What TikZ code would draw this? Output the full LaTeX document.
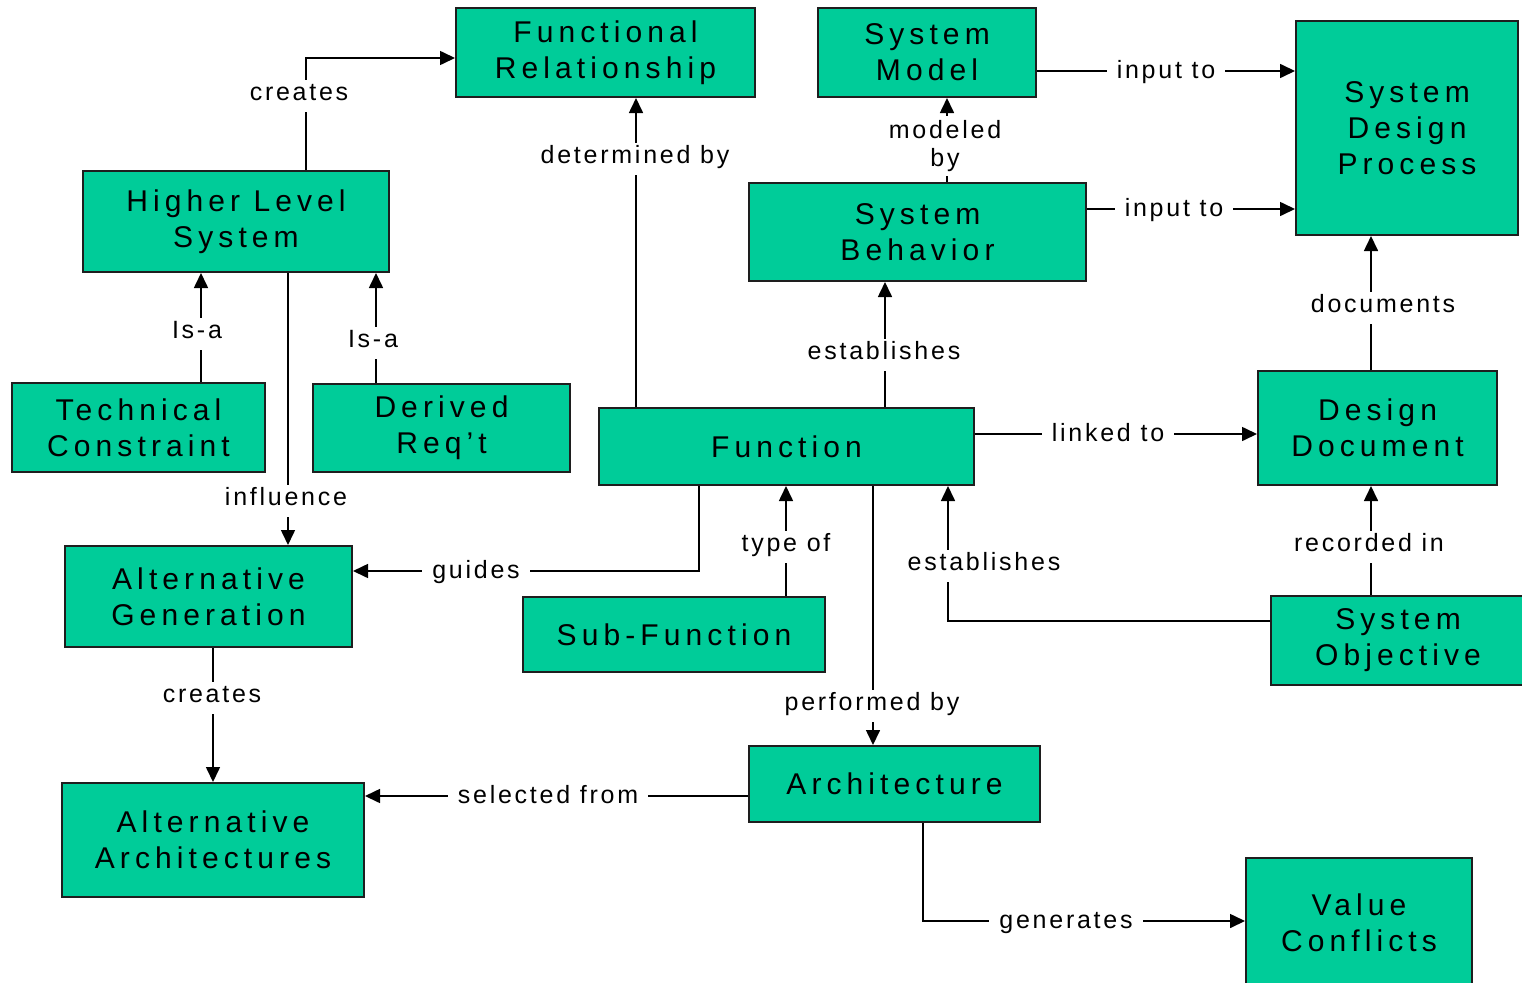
\documentclass[tikz,border=0pt]{standalone}
\usepackage{fontspec}
\setmainfont{Liberation Sans}
\newfontfamily\boxfont[LetterSpace=17]{Liberation Sans}
\newfontfamily\labfont[LetterSpace=11]{Liberation Sans}
\usetikzlibrary{arrows.meta}
\definecolor{boxgreen}{RGB}{0,204,153}
\definecolor{edge}{RGB}{30,30,30}
\tikzset{
  box/.style={draw=edge, line width=2pt, fill=boxgreen, align=center,
    inner sep=0pt, font=\boxfont\fontsize{30}{36}\selectfont},
  conn/.style={draw=black, line width=1.6pt,
    -{Triangle[length=15pt,width=14pt]}},
  labtwo/.style={fill=white, inner xsep=10pt, inner ysep=4pt, align=center,
    font=\labfont\fontsize{25}{28}\selectfont},
  lab/.style={labtwo, text height=17pt, text depth=7pt, yshift=-2.5pt},
}
\begin{document}
\begin{tikzpicture}[x=1pt,y=-1pt]
\useasboundingbox (0,0) rectangle (1522,982);

% concept boxes
\node[box, minimum width=299pt, minimum height=89pt]  (fr)   at (605.5,52.5) {Functional\\Relationship};
\node[box, minimum width=218pt, minimum height=89pt]  (sm)   at (927,52.5)   {System\\Model};
\node[box, minimum width=222pt, minimum height=214pt] (sdp)  at (1407,128)   {System\\Design\\Process};
\node[box, minimum width=306pt, minimum height=101pt] (hls)  at (236,221.5)  {Higher Level\\System};
\node[box, minimum width=337pt, minimum height=98pt]  (sb)   at (917.5,232)  {System\\Behavior};
\node[box, minimum width=253pt, minimum height=89pt]  (tc)   at (138.5,427.5){Technical\\Constraint};
\node[box, minimum width=257pt, minimum height=88pt]  (dr)   at (441.5,428)  {Derived\\Req’t};
\node[box, minimum width=375pt, minimum height=77pt]  (fn)   at (786.5,446.5){Function};
\node[box, minimum width=239pt, minimum height=114pt] (dd)   at (1377.5,428) {Design\\Document};
\node[box, minimum width=287pt, minimum height=101pt] (ag)   at (208.5,596.5){Alternative\\Generation};
\node[box, minimum width=302pt, minimum height=75pt]  (sf)   at (674,634.5)  {Sub-Function};
\node[box, minimum width=254pt, minimum height=89pt]  (so)   at (1398,640.5) {System\\Objective};
\node[box, minimum width=291pt, minimum height=76pt]  (arch) at (894.5,784)  {Architecture};
\node[box, minimum width=302pt, minimum height=114pt] (aa)   at (213,840)    {Alternative\\Architectures};
\node[box, minimum width=226pt, minimum height=130pt] (vc)   at (1359,923)   {Value\\Conflicts};

% relations
\draw[conn] (hls.north -| 306,0) |- (fr.west |- 0,58);
\draw[conn] (fn.north -| 636,0) -- (fr.south -| 636,0);
\draw[conn] (sb.north -| 947,0) -- (sm.south -| 947,0);
\draw[conn] (sm.east |- 0,71) -- (sdp.west |- 0,71);
\draw[conn] (sb.east |- 0,209) -- (sdp.west |- 0,209);
\draw[conn] (dd.north -| 1371,0) -- (sdp.south -| 1371,0);
\draw[conn] (tc.north -| 201,0) -- (hls.south -| 201,0);
\draw[conn] (dr.north -| 376,0) -- (hls.south -| 376,0);
\draw[conn] (hls.south -| 288,0) -- (ag.north -| 288,0);
\draw[conn] (fn.north -| 885,0) -- (sb.south -| 885,0);
\draw[conn] (fn.east |- 0,434) -- (dd.west |- 0,434);
\draw[conn] (fn.south -| 699,0) |- (ag.east |- 0,571);
\draw[conn] (sf.north -| 786,0) -- (fn.south -| 786,0);
\draw[conn] (so.west |- 0,621) -| (fn.south -| 948,0);
\draw[conn] (so.north -| 1371,0) -- (dd.south -| 1371,0);
\draw[conn] (fn.south -| 873,0) -- (arch.north -| 873,0);
\draw[conn] (ag.south -| 213,0) -- (aa.north -| 213,0);
\draw[conn] (arch.west |- 0,796) -- (aa.east |- 0,796);
\draw[conn] (arch.south -| 923,0) |- (vc.west |- 0,921);

% relation labels
\node[lab] (l-creates)   at (299,93)   {creates};
\node[lab] (l-determ)    at (635,156)  {determined by};
\node[labtwo] (l-modeled) at (945,146) {modeled\\by};
\node[lab] (l-input1)    at (1166,71)  {input to};
\node[lab] (l-input2)    at (1174,209) {input to};
\node[lab] (l-documents) at (1383,305) {documents};
\node[lab] (l-isa1)      at (197,331)  {Is-a};
\node[lab] (l-isa2)      at (373,340)  {Is-a};
\node[lab] (l-influence) at (286,498)  {influence};
\node[lab] (l-estab1)    at (884,352)  {establishes};
\node[lab] (l-linked)    at (1108,434) {linked to};
\node[lab] (l-guides)    at (476,571)  {guides};
\node[lab] (l-typeof)    at (786,544)  {type of};
\node[lab] (l-estab2)    at (984,563)  {establishes};
\node[lab] (l-recorded)  at (1369,544) {recorded in};
\node[lab] (l-performed) at (872,703)  {performed by};
\node[lab] (l-creates2)  at (212,695)  {creates};
\node[lab] (l-selected)  at (548,796)  {selected from};
\node[lab] (l-generates) at (1066,921) {generates};
\end{tikzpicture}
\end{document}
